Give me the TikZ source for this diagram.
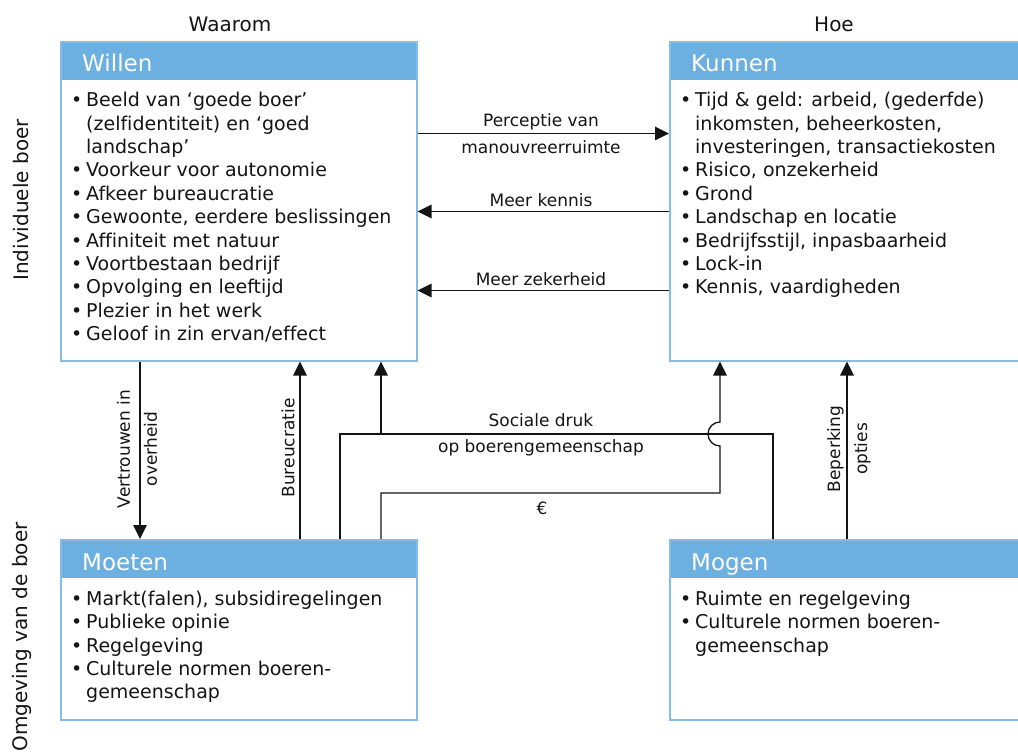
\documentclass[tikz,border=0pt]{standalone}
\usepackage{fontspec}
\setmainfont[Ligatures=NoCommon]{DejaVu Sans}
\usetikzlibrary{arrows.meta}
\definecolor{hdr}{RGB}{108,176,225}
\definecolor{bdr}{RGB}{135,188,232}
\definecolor{ink}{RGB}{20,20,20}
\newcommand{\bitem}[1]{\makebox[15pt][l]{\textbullet}#1}
\newcommand{\bcont}[1]{\hspace*{15pt}#1}
\newcommand{\fstrut}{\rule{0pt}{15pt}}
\begin{document}
\begin{tikzpicture}[x=1pt,y=-1pt,
  box/.style={draw=bdr, line width=1.5pt, anchor=north west, inner sep=0pt},
  hdrbox/.style={fill=hdr, anchor=north west, inner sep=0pt, minimum height=39pt},
  hdrtext/.style={text=white, font=\fontsize{23}{27}\selectfont, anchor=base west, inner sep=0pt},
  body/.style={font=\fontsize{19}{23.4}\selectfont, align=left, anchor=north west, inner sep=0pt, text=ink},
  lbl/.style={font=\fontsize{17}{27}\selectfont, text=ink, inner sep=0pt, align=center},
  ttl/.style={font=\fontsize{20}{24}\selectfont, text=ink, inner sep=0pt},
  conn/.style={draw=ink, line width=1.3pt},
  arr/.style={conn, -{Triangle[length=14pt,width=13.5pt]}},
]
\useasboundingbox (0,0) rectangle (1018,755);
\clip (0,0) rectangle (1018,755);

% column / row titles
\node[ttl, anchor=base] (waarom) at (230,31.5) {Waarom};
\node[ttl, anchor=base] (hoe) at (834,31.5) {Hoe};
\node[ttl, rotate=90] (indiv) at (21,200) {Individuele boer};
\node[ttl, rotate=90] (omgev) at (22,637) {Omgeving van de boer};

% Willen
\node[hdrbox, minimum width=356pt] (willenh) at (60,41) {};
\node[box, minimum width=356pt, minimum height=319pt] (willen) at (60,41) {};
\node[hdrtext] (willent) at (82,71) {Willen};
\node[body] (willenb) at (71,91.5) {\fstrut\bitem{Beeld van ‘goede boer’}\\
\bcont{(zelfidentiteit) en ‘goed}\\
\bcont{landschap’}\\
\bitem{Voorkeur voor autonomie}\\
\bitem{Afkeer bureaucratie}\\
\bitem{Gewoonte, eerdere beslissingen}\\
\bitem{Affiniteit met natuur}\\
\bitem{Voortbestaan bedrijf}\\
\bitem{Opvolging en leeftijd}\\
\bitem{Plezier in het werk}\\
\bitem{Geloof in zin ervan/effect}};

% Kunnen
\node[hdrbox, minimum width=362pt] (kunnenh) at (669,41) {};
\node[box, minimum width=362pt, minimum height=319pt] (kunnen) at (669,41) {};
\node[hdrtext] (kunnent) at (691,71) {Kunnen};
\node[body] (kunnenb) at (680,91.5) {\fstrut\bitem{Tijd \& geld: arbeid, (gederfde)}\\
\bcont{inkomsten, beheerkosten,}\\
\bcont{investeringen, transactiekosten}\\
\bitem{Risico, onzekerheid}\\
\bitem{Grond}\\
\bitem{Landschap en locatie}\\
\bitem{Bedrijfsstijl, inpasbaarheid}\\
\bitem{Lock-in}\\
\bitem{Kennis, vaardigheden}};

% Moeten
\node[hdrbox, minimum width=356pt] (moetenh) at (60,539) {};
\node[box, minimum width=356pt, minimum height=180pt] (moeten) at (60,539) {};
\node[hdrtext] (moetent) at (82,570) {Moeten};
\node[body] (moetenb) at (71,590) {\fstrut\bitem{Markt(falen), subsidiregelingen}\\
\bitem{Publieke opinie}\\
\bitem{Regelgeving}\\
\bitem{Culturele normen boeren-}\\
\bcont{gemeenschap}};

% Mogen
\node[hdrbox, minimum width=362pt] (mogenh) at (669,539) {};
\node[box, minimum width=362pt, minimum height=180pt] (mogen) at (669,539) {};
\node[hdrtext] (mogent) at (691,570) {Mogen};
\node[body] (mogenb) at (680,590) {\fstrut\bitem{Ruimte en regelgeving}\\
\bitem{Culturele normen boeren-}\\
\bcont{gemeenschap}};

% horizontal connectors
\draw[arr] (willen.east |- 0,133.5) -- (kunnen.west |- 0,133.5);
\draw[arr] (kunnen.west |- 0,211.5) -- (willen.east |- 0,211.5);
\draw[arr] (kunnen.west |- 0,290.5) -- (willen.east |- 0,290.5);
\node[lbl, anchor=base] (l1) at (541,126.5) {Perceptie van};
\node[lbl, anchor=base] (l2) at (541,153) {manouvreerruimte};
\node[lbl, anchor=base] (l3) at (541,206) {Meer kennis};
\node[lbl, anchor=base] (l4) at (541,285) {Meer zekerheid};

% vertical connectors
\coordinate (vt) at (140,0);
\coordinate (bu) at (300,0);
\coordinate (bp) at (847,0);
\draw[arr] (willen.south -| vt) -- (moeten.north -| vt);
\draw[arr] (moeten.north -| bu) -- (willen.south -| bu);
\draw[arr] (mogen.north -| bp) -- (kunnen.south -| bp);
\node[lbl, rotate=90] (l5) at (137,449) {Vertrouwen in\\overheid};
\node[lbl, rotate=90] (l6) at (288,448) {Bureucratie};
\node[lbl, rotate=90] (l7) at (849,449) {Beperking\\opties};

% sociale druk
\coordinate (sdL) at (340,434);
\coordinate (sdB) at (381,434);
\coordinate (sdR) at (773,434);
\draw[conn] (moeten.north -| sdL) -- (sdL) -- (sdR) -- (mogen.north -| sdR);
\draw[arr] (sdB) -- (willen.south -| sdB);
\node[lbl, anchor=base] (l8) at (541,426.5) {Sociale druk};
\node[lbl, anchor=base] (l9) at (541,452) {op boerengemeenschap};

% euro
\coordinate (eL) at (381,493);
\coordinate (eR) at (720,493);
\coordinate (hopA) at (720,446);
\draw[arr] (moeten.north -| eL) -- (eL) -- (eR) -- (hopA)
  arc[start angle=270, end angle=90, radius=12pt] -- (kunnen.south -| eR);
\node[lbl, anchor=base] (l10) at (542,514) {€};
\end{tikzpicture}
\end{document}
